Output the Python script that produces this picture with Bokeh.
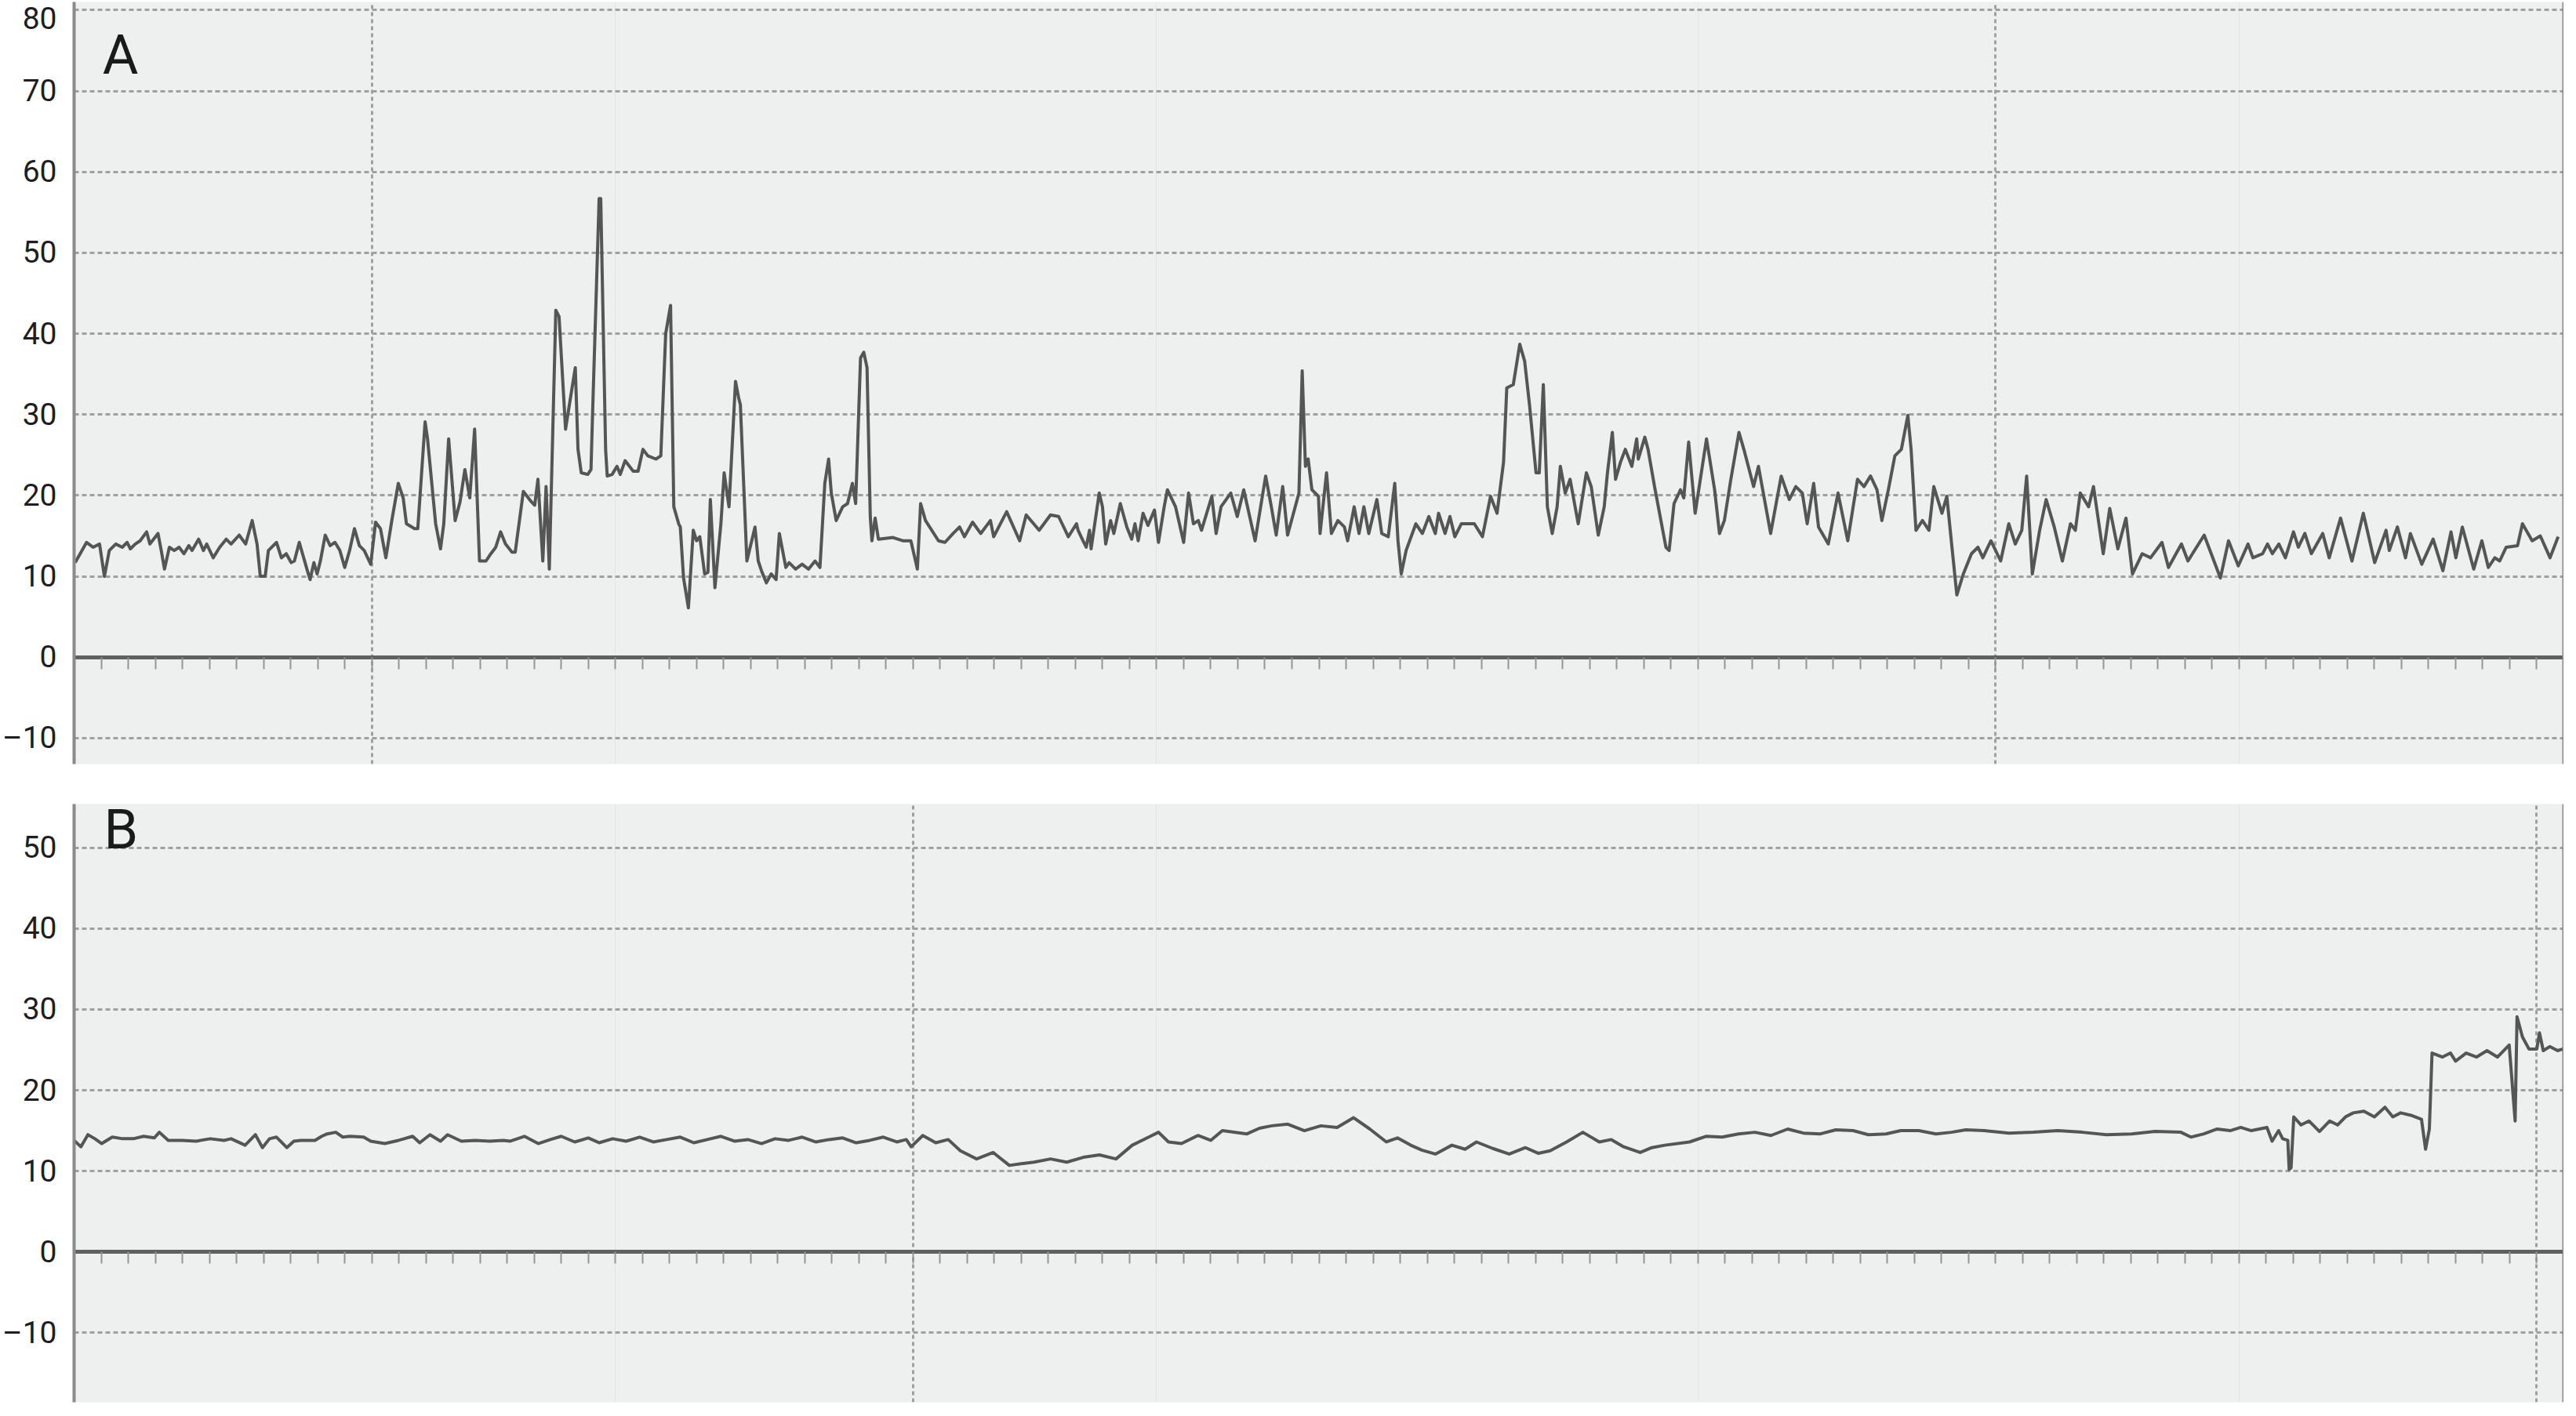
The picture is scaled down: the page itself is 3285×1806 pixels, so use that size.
from bokeh.plotting import figure
from bokeh.models import (Range1d, FixedTicker, LinearAxis, Grid, Label, Span,
                          ColumnDataSource, CustomJSTickFormatter)
from bokeh.layouts import column
from bokeh.embed import file_html
from bokeh.resources import INLINE

# ---------------- data (time in minutes, value) ----------------
a_time = [0.04,0.46,0.70,0.94,1.12,1.30,1.54,1.78,1.96,2.08,2.26,2.44,2.68,2.80,3.10,3.22,3.34,3.52,3.70,3.88,4.06,4.24,4.36,4.60,4.78,4.90,5.14,5.38,5.62,5.80,6.10,6.34,6.58,6.76,6.88,7.06,7.18,7.48,7.66,7.84,8.02,8.14,8.32,8.62,8.72,8.86,8.98,9.10,9.28,9.46,9.64,9.82,10.00,10.18,10.36,10.54,10.72,10.96,11.14,11.32,11.52,11.74,11.98,12.16,12.28,12.58,12.70,12.97,13.06,13.36,13.54,13.66,13.84,14.08,14.26,14.44,14.62,14.80,14.98,15.22,15.40,15.58,15.76,15.94,16.18,16.30,16.60,16.90,17.02,17.14,17.32,17.44,17.56,17.80,17.92,18.16,18.40,18.52,
          18.62,18.74,18.98,19.10,19.16,19.40,19.46,19.64,19.70,19.88,20.06,20.18,20.36,20.66,20.84,21.02,21.20,21.50,21.68,21.86,22.04,22.16,22.34,22.40,22.52,22.70,22.88,23.00,23.12,23.30,23.42,23.51,23.68,23.90,24.02,24.20,24.44,24.56,24.62,24.86,25.16,25.28,25.40,25.58,25.76,25.94,26.06,26.30,26.42,26.66,26.90,27.14,27.38,27.56,27.74,27.88,27.98,28.16,28.40,28.58,28.76,28.88,29.06,29.18,29.30,29.42,29.48,29.60,29.72,30.26,30.62,30.92,31.16,31.28,31.46,31.94,32.18,32.48,32.72,32.90,33.20,33.50,33.86,33.98,34.46,34.94,35.18,35.66,36.08,36.38,36.74,37.04,
          37.10,37.28,37.40,37.52,37.58,37.88,38.00,38.12,38.30,38.42,38.66,38.90,39.08,39.20,39.32,39.50,39.68,39.92,40.07,40.28,40.40,40.70,41.00,41.18,41.36,41.54,41.66,42.04,42.20,42.38,42.74,42.98,43.22,43.64,44.03,44.24,44.42,44.66,44.84,45.26,45.38,45.50,45.60,45.74,45.98,46.04,46.28,46.46,46.70,46.94,47.06,47.30,47.48,47.66,47.84,48.14,48.32,48.56,48.80,48.92,49.04,49.22,49.58,49.82,50.06,50.30,50.42,50.66,50.84,51.02,51.26,51.74,52.04,52.34,52.58,52.82,52.94,53.18,53.42,53.60,53.78,54.02,54.14,54.29,54.44,54.62,54.80,54.92,55.10,55.28,55.58,
          55.88,56.06,56.32,56.54,56.66,56.84,56.96,57.14,57.32,57.56,57.74,57.80,58.04,58.16,58.40,58.82,58.94,59.12,59.36,59.48,59.66,59.90,60.32,60.62,60.80,60.98,61.22,61.52,61.70,62.06,62.24,62.69,63.08,63.38,63.62,63.86,64.04,64.28,64.46,64.82,65.18,65.54,65.90,66.14,66.38,66.62,66.80,67.04,67.28,67.52,67.76,67.88,68.06,68.30,68.54,68.72,69.02,69.20,69.39,69.57,69.81,70.11,70.35,70.53,70.83,71.19,71.49,71.73,71.97,72.15,72.36,72.63,72.87,73.17,73.47,73.77,73.95,74.13,
          74.44,74.62,74.98,75.22,75.52,75.82,76.06,76.42,76.73,77.15,77.39,77.87,78.11,78.71,79.31,79.61,79.97,80.33,80.51,80.87,81.05,81.23,81.47,81.71,82.01,82.19,82.43,82.67,83.09,83.33,83.75,84.17,84.59,85.01,85.43,85.55,85.85,86.15,86.33,86.75,87.17,87.53,87.83,88.01,88.25,88.67,88.97,89.21,89.45,89.63,89.87,90.29,90.47,90.83,91.13,91.49,91.79]
a_value = [11.7,14.2,13.6,14.0,10.0,13.2,14.0,13.6,14.2,13.4,14.0,14.4,15.5,14.0,15.3,13.2,10.9,13.6,13.2,13.6,12.8,13.8,13.2,14.6,13.2,14.0,12.3,13.6,14.6,14.0,15.1,14.0,16.9,14.0,10.0,10.0,13.2,14.2,12.3,12.8,11.7,11.9,14.2,10.7,9.6,11.7,10.3,11.9,15.1,13.8,14.2,13.2,11.1,13.2,15.9,13.8,13.2,11.5,16.7,15.9,12.3,16.9,21.5,19.7,16.5,15.9,15.9,29.1,27.0,16.5,13.4,16.5,27.0,16.9,19.2,23.2,19.7,28.2,11.9,11.9,12.8,13.6,15.5,14.0,13.0,13.0,20.5,19.2,18.8,22.0,11.9,21.1,10.9,42.9,42.1,28.2,33.3,35.8,
           25.7,22.8,22.6,23.2,30.3,56.7,56.7,25.7,22.4,22.6,23.6,22.6,24.3,23.0,23.0,25.7,24.9,24.5,24.9,40.0,43.5,18.6,16.5,16.1,9.8,6.1,15.7,14.4,14.9,10.3,10.5,19.5,8.6,16.5,22.8,18.6,34.1,32.0,31.2,11.9,16.1,11.9,10.7,9.2,10.3,9.6,15.3,11.1,11.7,10.9,11.5,10.9,11.9,11.1,21.5,24.5,20.3,16.9,18.6,19.0,21.5,19.0,37.0,37.7,35.8,17.4,14.4,17.2,14.6,14.8,14.4,14.4,10.9,19.0,16.9,14.4,14.2,15.3,16.1,14.9,16.7,15.3,16.9,14.9,18.0,14.4,17.6,15.7,17.6,17.4,14.9,16.5,
           15.7,14.4,13.6,15.7,13.4,20.3,18.6,14.0,16.9,15.3,19.0,16.1,14.6,16.5,14.4,17.8,16.3,18.2,14.2,18.6,20.7,18.6,14.2,20.3,16.5,16.9,15.7,19.9,15.3,18.6,20.3,17.4,20.7,14.4,22.4,18.6,15.1,21.1,15.1,20.3,35.4,23.6,24.5,20.7,19.9,15.3,22.8,15.3,16.9,16.1,14.4,18.6,15.3,18.6,15.3,19.5,15.3,14.9,21.5,14.4,10.3,13.2,16.5,15.3,17.4,15.3,17.8,15.3,17.4,14.9,16.5,16.5,14.9,19.9,17.8,24.1,33.3,33.7,38.7,36.6,31.2,22.8,22.8,33.7,18.6,15.3,18.6,23.6,20.3,22.0,16.5,
           22.8,21.1,15.1,18.6,22.8,27.8,22.0,24.1,25.7,23.6,27.0,24.5,27.2,25.7,21.1,13.6,13.2,19.0,20.7,19.7,26.6,17.8,27.0,20.7,15.3,16.9,22.0,27.8,25.7,21.1,23.6,15.3,22.4,19.5,21.1,20.3,16.5,21.5,16.1,14.0,20.3,14.4,22.0,21.1,22.4,20.7,16.9,20.7,24.9,25.7,29.9,25.7,15.7,16.9,15.7,21.1,17.8,19.9,13.6,7.7,10.3,12.8,13.6,12.3,14.4,11.9,16.5,14.0,15.7,22.4,10.3,15.7,19.5,16.1,11.9,16.5,15.7,20.3,
           18.6,21.1,12.8,18.4,13.4,17.2,10.3,12.8,12.3,14.2,11.1,14.0,11.9,15.1,9.8,14.4,11.3,14.0,12.3,12.8,14.0,12.8,14.0,12.3,15.5,13.6,15.3,12.8,15.3,12.3,17.2,11.9,17.8,11.7,15.7,13.2,16.1,12.3,15.3,11.5,14.6,10.7,15.5,12.3,16.1,10.9,14.4,11.1,12.3,11.9,13.6,13.8,16.5,14.4,15.0,12.3,14.9]

b_time = [0.0,0.25,0.51,0.77,1.02,1.41,1.80,2.19,2.57,2.96,3.15,3.48,3.99,4.51,5.03,5.54,5.80,6.32,6.70,6.96,7.22,7.48,7.86,8.12,8.38,8.90,9.15,9.35,9.67,9.93,10.19,10.70,10.96,11.48,11.99,12.51,12.77,13.15,13.54,13.80,14.31,14.83,15.35,15.86,16.12,16.64,17.15,
          17.6,18.0,18.5,19.0,19.4,19.9,20.4,20.9,21.4,21.9,22.4,22.9,23.4,23.9,24.4,24.9,25.4,25.9,26.4,26.9,27.4,27.9,28.4,28.9,29.4,29.9,30.4,30.75,
          30.93,31.36,31.84,32.30,32.75,33.35,33.96,34.56,34.99,35.47,36.08,36.68,37.29,37.89,38.50,39.10,39.71,40.07,40.44,40.92,41.53,42.00,42.43,43.34,43.80,44.25,44.85,45.46,46.07,46.67,47.28,47.88,48.49,48.90,49.39,49.80,50.30,50.91,51.40,51.82,52.42,53.03,53.63,54.10,54.54,55.15,55.75,56.36,56.80,57.26,57.87,58.30,58.78,59.69,60.30,60.90,61.50,62.11,62.70,63.32,63.90,64.53,65.10,65.74,66.30,66.95,67.50,68.16,68.80,69.37,69.90,70.58,71.50,72.40,73.30,74.21,75.10,76.03,76.90,77.85,
          78.22,78.70,79.19,79.67,80.06,80.45,81.03,81.22,81.46,81.61,81.80,81.85,81.92,82.02,82.29,82.58,82.97,83.35,83.64,83.93,84.22,84.61,85.00,85.39,85.68,85.97,86.35,86.74,86.89,87.03,87.13,87.51,87.81,88.00,88.39,88.77,89.16,89.55,89.98,90.20,90.27,90.47,90.71,91.00,91.10,91.24,91.48,91.77,91.97]
b_value = [13.8,13.0,14.5,14.0,13.4,14.2,14.0,14.0,14.3,14.1,14.8,13.8,13.8,13.7,14.0,13.8,14.0,13.2,14.5,12.9,14.0,14.2,12.9,13.7,13.8,13.8,14.3,14.6,14.8,14.2,14.3,14.2,13.7,13.4,13.8,14.3,13.5,14.5,13.7,14.5,13.7,13.8,13.7,13.8,13.7,14.3,13.4,
           13.9,14.3,13.6,14.1,13.5,14.0,13.7,14.2,13.6,13.9,14.2,13.5,13.9,14.3,13.7,13.9,13.4,14.0,13.8,14.2,13.6,13.9,14.1,13.5,13.8,14.2,13.6,13.9,
           13.0,14.4,13.5,13.9,12.5,11.5,12.3,10.7,10.9,11.1,11.5,11.1,11.7,12.0,11.5,13.2,14.2,14.8,13.6,13.4,14.4,13.8,15.0,14.6,15.3,15.6,15.8,15.0,15.6,15.4,16.6,15.2,13.6,14.1,13.2,12.6,12.1,13.2,12.7,13.6,12.8,12.1,12.9,12.2,12.5,13.6,14.8,13.6,13.9,13.0,12.3,12.9,13.2,13.6,14.3,14.2,14.6,14.8,14.4,15.2,14.7,14.6,15.1,15.0,14.5,14.6,15.0,15.0,14.6,14.8,15.1,15.0,14.7,14.8,15.0,14.8,14.5,14.6,14.9,14.8,
           14.2,14.6,15.2,15.0,15.4,15.0,15.4,13.7,15.0,14.0,13.8,10.2,10.4,16.7,15.7,16.2,14.9,16.2,15.7,16.7,17.2,17.4,16.7,17.9,16.7,17.2,16.9,16.4,12.7,15.2,24.6,24.1,24.6,23.6,24.6,24.1,24.9,24.1,25.6,16.2,29.1,26.6,25.1,25.1,27.1,24.9,25.4,24.9,25.1]

a_yticks = [-10, 0, 10, 20, 30, 40, 50, 60, 70, 80]
b_yticks = [-10, 0, 10, 20, 30, 40, 50]
minute_ticks = list(range(1, 92))
a_hour_lines = [11, 71]
b_hour_lines = [31, 91]
x_start, x_end = 0, 92

# ---------------- style ----------------
BG = "#eeefef"
GRID = "#a0a0a0"
AXIS = "#8a8a8a"
TRACE = "#555555"
FONT = "Roboto"


def panel(tx, ty, y_lo, y_hi, yticks, hour_lines, letter, letter_x, letter_y,
          height, btop, bbottom, bleft):
    p = figure(width=3269, height=height, x_range=Range1d(x_start, x_end),
               y_range=Range1d(y_lo, y_hi), output_backend="svg",
               toolbar_location=None, x_axis_location=None,
               y_axis_location="left",
               min_border_left=bleft, min_border_right=0,
               min_border_top=btop, min_border_bottom=bbottom,
               background_fill_color=BG, border_fill_color="white",
               outline_line_color=None)

    # y axis (left)
    ya = p.yaxis[0]
    ya.ticker = FixedTicker(ticks=yticks)
    ya.major_label_overrides = {-10: "\u201310"}
    ya.major_tick_out = 0
    ya.major_tick_in = 0
    ya.minor_tick_out = 0
    ya.minor_tick_in = 0
    ya.axis_line_color = AXIS
    ya.axis_line_width = 4
    ya.major_label_standoff = 22
    ya.major_label_text_font = FONT
    ya.major_label_text_font_size = "39px"
    ya.major_label_text_color = "#1e1e1e"

    # horizontal dashed grid
    p.ygrid.ticker = FixedTicker(ticks=yticks)
    p.ygrid.grid_line_color = GRID
    p.ygrid.grid_line_dash = "6 4"
    p.ygrid.grid_line_width = 3

    # vertical dashed hour lines
    vg = Grid(dimension=0, ticker=FixedTicker(ticks=hour_lines),
              grid_line_color=GRID, grid_line_dash="5 4", grid_line_width=3)
    p.add_layout(vg)

    # right frame line
    p.add_layout(Span(location=x_end, dimension="height", line_color=AXIS,
                      line_width=4))

    # zero line with minute ticks
    za = LinearAxis(ticker=FixedTicker(ticks=minute_ticks), fixed_location=0,
                    axis_line_color="#606060", axis_line_width=5,
                    major_tick_out=0, major_tick_in=15,
                    major_tick_line_color="#959595", major_tick_line_width=2,
                    minor_tick_out=0, minor_tick_in=0, major_label_standoff=0,
                    major_label_text_font_size="0px",
                    formatter=CustomJSTickFormatter(code="return ''"))
    p.add_layout(za, "above")

    src = ColumnDataSource(dict(t=tx, v=ty))
    p.line("t", "v", source=src, line_color=TRACE, line_width=4,
           line_join="round")

    p.add_layout(Label(x=letter_x, y=letter_y, text=letter,
                       text_font=FONT, text_font_size="70px",
                       text_color="#1a1a1a", text_baseline="alphabetic"))
    return p


pA = panel(a_time, a_value, -13.2, 81.0, a_yticks, a_hour_lines, "A", 1.05, 74.5,
           994, 2, 20, 88)
pB = panel(b_time, b_value, -18.6, 55.4, b_yticks, b_hour_lines, "B", 1.1, 52.2,
           796, 31, 2, 86)

layout = column(pA, pB, spacing=0)
open("out.html", "w").write(file_html(layout, INLINE))
